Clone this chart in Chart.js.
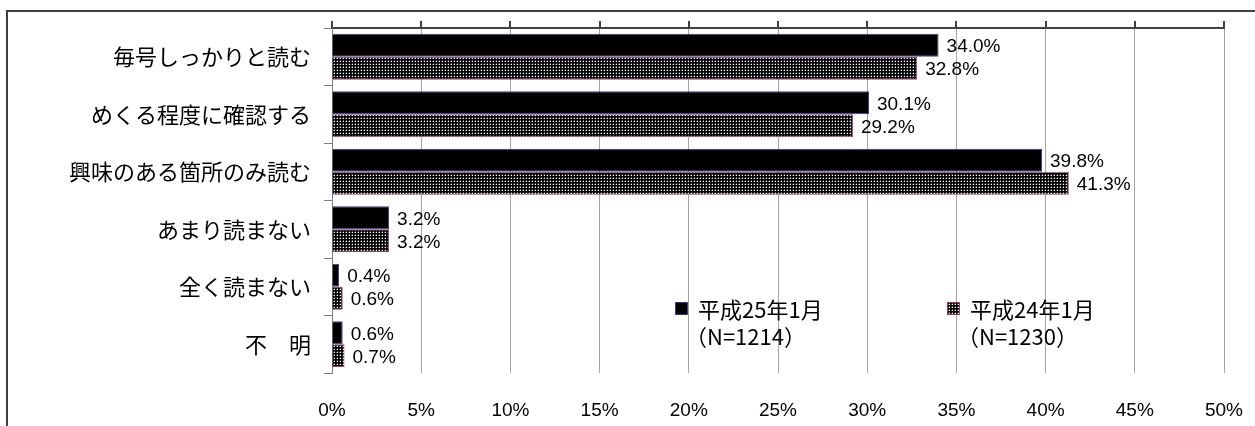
<!DOCTYPE html>
<html lang="ja">
<head>
<meta charset="utf-8">
<script src="https://cdn.jsdelivr.net/npm/chart.js@4.4.1/dist/chart.umd.min.js"></script>
<style>
  body { margin: 0; background: #fff; }
  #wrap { position: relative; width: 1255px; height: 426px; overflow: hidden; }
  #frame { position: absolute; left: 6px; top: 10px; width: 1300px; height: 500px; border: 2px solid #404040; }
  #readChart { position: absolute; left: 0; top: 0; }
</style>
</head>
<body>
<div id="wrap">
  <div id="frame"></div>
  <canvas id="readChart" width="1255" height="426"></canvas>
</div>
<script>
const categories = ['毎号しっかりと読む', 'めくる程度に確認する', '興味のある箇所のみ読む', 'あまり読まない', '全く読まない', '不　明'];
const seriesNames = ['平成25年1月', '平成24年1月'];
const sampleSizes = ['（N=1214）', '（N=1230）'];
const values2013 = [34.0, 30.1, 39.8, 3.2, 0.4, 0.6];
const values2012 = [32.8, 29.2, 41.3, 3.2, 0.6, 0.7];
const axisMax = 50;
const axisStep = 5;

const jpFont = '"Noto Sans CJK JP", sans-serif';
const numFont = '"Liberation Sans", Arial, sans-serif';

// black with small white dots, like the office "dotted" fill
function dotPattern() {
  const c = document.createElement('canvas');
  c.width = 3; c.height = 3;
  const g = c.getContext('2d');
  g.fillStyle = '#000';
  g.fillRect(0, 0, 3, 3);
  g.fillStyle = '#555';
  g.fillRect(1, 0, 1, 1);
  g.fillRect(0, 1, 1, 1);
  g.fillStyle = '#fff';
  g.fillRect(1, 1, 1, 1);
  return g.createPattern(c, 'repeat');
}
const dots = dotPattern();

const valueLabels = {
  id: 'valueLabels',
  afterDatasetsDraw(chart) {
    const ctx = chart.ctx;
    ctx.save();
    ctx.font = '19px ' + numFont;
    ctx.fillStyle = '#000';
    ctx.textAlign = 'left';
    ctx.textBaseline = 'middle';
    chart.data.datasets.forEach((ds, i) => {
      chart.getDatasetMeta(i).data.forEach((bar, j) => {
        ctx.fillText(ds.data[j].toFixed(1) + '%', bar.x + 8, bar.y + 2);
      });
    });
    ctx.restore();
  }
};

const boxLegend = {
  id: 'boxLegend',
  afterDraw(chart, args, opts) {
    const ctx = chart.ctx;
    ctx.save();
    chart.data.datasets.forEach((ds, i) => {
      const x = opts.x[i], y = opts.y;
      ctx.fillStyle = ds.backgroundColor;
      ctx.fillRect(x, y, 13, 13);
      ctx.strokeStyle = ds.borderColor;
      ctx.lineWidth = 1;
      ctx.strokeRect(x + 0.5, y + 0.5, 12, 12);
      ctx.fillStyle = '#000';
      ctx.font = '22px ' + jpFont;
      ctx.textBaseline = 'middle';
      ctx.fillText(ds.label, x + 23, y + 8);
      ctx.fillText(sampleSizes[i], x + 10, y + 35);
    });
    ctx.restore();
  }
};

new Chart(document.getElementById('readChart'), {
  type: 'bar',
  data: {
    labels: categories,
    datasets: [{
      label: seriesNames[0],
      data: values2013,
      backgroundColor: '#000',
      borderColor: '#3a3a96',
      borderWidth: 1,
      categoryPercentage: 0.8,
      barPercentage: 1.0
    }, {
      label: seriesNames[1],
      data: values2012,
      backgroundColor: dots,
      borderColor: '#9c2f6c',
      borderWidth: 1,
      categoryPercentage: 0.8,
      barPercentage: 1.0
    }]
  },
  options: {
    indexAxis: 'y',
    responsive: false,
    animation: false,
    devicePixelRatio: 1,
    layout: { padding: { left: 6, right: 31, top: 21, bottom: 2 } },
    plugins: {
      legend: { display: false },
      tooltip: { enabled: false },
      boxLegend: { x: [675, 947], y: 302 }
    },
    scales: {
      x: {
        position: 'bottom',
        min: 0,
        max: axisMax,
        ticks: {
          stepSize: axisStep,
          padding: 26,
          maxRotation: 0,
          color: '#000',
          font: { family: numFont, size: 19 },
          callback: v => v + '%'
        },
        grid: { color: '#a6a6a6', lineWidth: 1, drawTicks: false },
        border: { display: false },
        afterFit: s => { s.height = 51; s.paddingLeft = 0; s.paddingRight = 0; }
      },
      x2: {
        type: 'linear',
        position: 'top',
        min: 0,
        max: axisMax,
        ticks: { stepSize: axisStep, display: false },
        grid: { drawOnChartArea: false, drawTicks: true, tickLength: 7, color: '#404040', lineWidth: 2 },
        border: { color: '#404040', width: 2 },
        afterFit: s => { s.height = 7; s.paddingLeft = 0; s.paddingRight = 0; }
      },
      y: {
        ticks: {
          color: '#000',
          padding: 13,
          font: { family: jpFont, size: 22 }
        },
        grid: { drawOnChartArea: false, tickLength: 8, color: '#808080' },
        border: { color: '#808080', width: 1 },
        afterFit: s => { s.width = 326; s.paddingTop = 0; s.paddingBottom = 0; }
      }
    }
  },
  plugins: [valueLabels, boxLegend]
});
</script>
</body>
</html>
